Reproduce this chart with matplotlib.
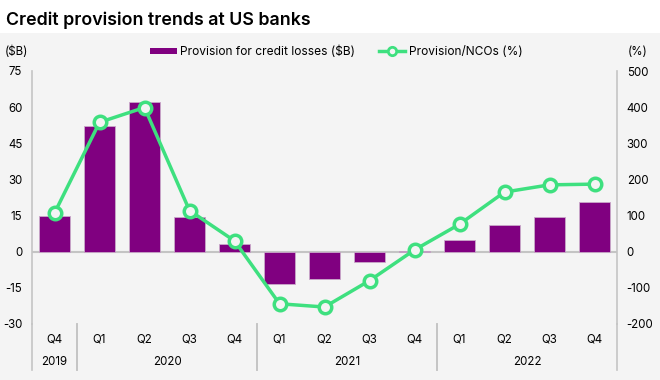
import matplotlib.pyplot as plt
from matplotlib.lines import Line2D
from matplotlib.patches import Patch, Rectangle
import matplotlib.transforms as mtransforms

plt.rcParams["font.family"] = ["Inter", "DejaVu Sans"]
plt.rcParams["axes.unicode_minus"] = False

# Data
quarters = ["Q4", "Q1", "Q2", "Q3", "Q4", "Q1", "Q2", "Q3", "Q4", "Q1", "Q2", "Q3", "Q4"]
years = ["2019", "2020", "2021", "2022"]
year_spans = [(0, 0), (1, 4), (5, 8), (9, 12)]  # first/last quarter index of each year
provision_bn = [15.0, 52.3, 62.2, 14.5, 3.4, -13.3, -11.2, -4.3, 0.5, 4.8, 11.1, 14.4, 20.6]
provision_nco_pct = [107, 358, 399, 114, 30, -144, -153, -80, 5, 76, 165, 185, 187]

PURPLE = "#800080"
GREEN = "#3ee07f"
GREY_BG = "#f4f4f4"
AXIS_GREY = "#c4c4c4"

fig = plt.figure(figsize=(6.6, 3.8), dpi=100)
fig.patch.set_facecolor("white")
fig.patches.append(Rectangle((0, 0), 1, 1 - 33 / 380, transform=fig.transFigure,
                             facecolor=GREY_BG, edgecolor="none", zorder=-10))
fig.text(6 / 660, 1 - 20 / 380, "Credit provision trends at US banks",
         fontsize=12.8, fontweight="semibold", va="center", ha="left")

ax = fig.add_axes([32 / 660, 1 - 324 / 380, (617 - 32) / 660, (324 - 71) / 380])
ax.set_facecolor("none")
x = list(range(len(quarters)))
ax.bar(x, provision_bn, width=0.667, color=PURPLE, edgecolor="#c9a9c9", linewidth=0.6, zorder=3)
ax.axhline(0, color=AXIS_GREY, linewidth=1.5, zorder=2)
ax.set_xlim(-0.5, len(quarters) - 0.5)
ax.set_ylim(-30, 75)
ax.set_yticks(range(-30, 76, 15))
ax.tick_params(axis="y", length=0, labelsize=8.3, pad=7)
ax.set_xticks([])
for side in ["top", "bottom", "right"]:
    ax.spines[side].set_visible(False)
ax.spines["left"].set_color(AXIS_GREY)
ax.spines["left"].set_linewidth(1.2)

ax2 = ax.twinx()
ax2.plot(x, provision_nco_pct, color=GREEN, linewidth=2.5, marker="o", markersize=9,
         markerfacecolor=GREY_BG, markeredgecolor=GREEN, markeredgewidth=2.5, zorder=5)
ax2.set_ylim(-200, 500)
ax2.set_yticks(range(-200, 501, 100))
ax2.tick_params(axis="y", length=0, labelsize=8.3, pad=7)
for side in ["top", "bottom", "left"]:
    ax2.spines[side].set_visible(False)
ax2.spines["right"].set_color(AXIS_GREY)
ax2.spines["right"].set_linewidth(1.2)

# category axis labels
trans = mtransforms.blended_transform_factory(ax.transData, ax.transAxes)
for i, q in enumerate(quarters):
    ax.text(i, -0.063, q, transform=trans, ha="center", va="center", fontsize=8.3)
for yr, (a, b) in zip(years, year_spans):
    ax.text((a + b) / 2, -0.15, yr, transform=trans, ha="center", va="center", fontsize=8.3)
    for edge in (a - 0.5, b + 0.5):
        ax.plot([edge, edge], [0, -0.182], transform=trans, color=AXIS_GREY,
                linewidth=1.2, clip_on=False)

fig.text(5 / 660, 1 - 52 / 380, "($B)", fontsize=8.3, va="center", ha="left")
fig.text(628 / 660, 1 - 52 / 380, "(%)", fontsize=8.3, va="center", ha="left")

handles = [
    Patch(facecolor=PURPLE, edgecolor="none", label="Provision for credit losses ($B)"),
    Line2D([], [], color=GREEN, linewidth=2.5, marker="o", markersize=6,
           markerfacecolor=GREY_BG, markeredgecolor=GREEN, markeredgewidth=2,
           label="Provision/NCOs (%)"),
]
fig.legend(handles=handles, loc="center", bbox_to_anchor=(0.51, 1 - 52 / 380), ncol=2,
           frameon=False, fontsize=8.6, handlelength=2.2, handleheight=0.5,
           handletextpad=0.3, columnspacing=2.0)

fig.savefig("out.png", dpi=100)
